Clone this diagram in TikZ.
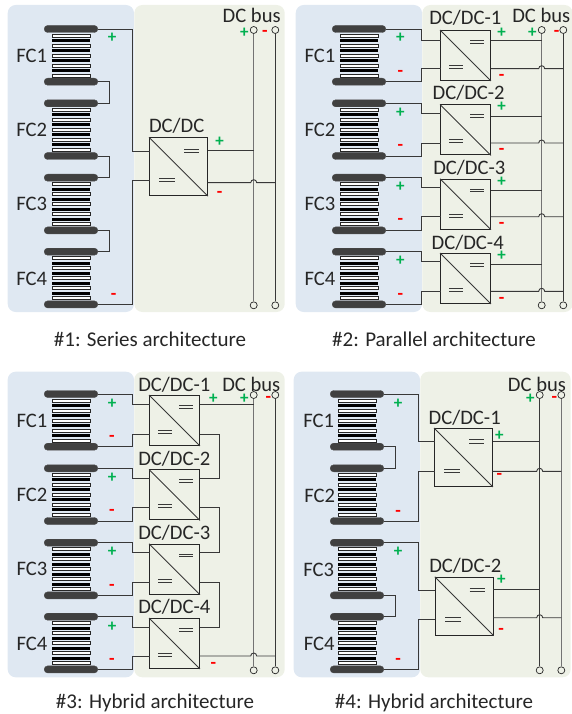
\documentclass[tikz,border=0pt]{standalone}
\usepackage{fontspec}
\setmainfont{Carlito}
\usepackage{xcolor}
\usepackage{tikz}

\definecolor{fcblue}{HTML}{DFE8F2}
\definecolor{busgreen}{HTML}{EEF1E7}
\definecolor{plusgreen}{HTML}{00B050}
\definecolor{inkdark}{HTML}{262626}

% one minus wire, hopping over the plus rail on its way to the minus rail
\newcommand{\hopwire}[1]{
  \coordinate (hop) at (bpt |- #1);
  \draw[wire] (#1) -- ([xshift=-3pt]hop) arc[start angle=180, end angle=0, radius=3pt] -- (bmt |- #1);
}
% blue and green regions of one panel
\newcommand{\regions}[2]{
  \fill[fcblue, rounded corners=8pt] (7.7,#1) rectangle (134,#2);
  \fill[busgreen, rounded corners=8pt] (134.3,#1) rectangle (284.7,#2);
}
% the four stacks with their names
\newcommand{\fcstacks}{
  \foreach \i/\y in {1/29,2/103.3,3/177.7,4/251.7} {
    \pic (fc\i) at (71,\y) {fcstack};
  }
}
% the two rails with their end terminals
\newcommand{\busrails}[2]{
  \node[term] (bpt) at (253.7,30) {};
  \node[term] (bmt) at (275.3,30) {};
  \node[term] (bpb) at (253.7,305.3) {};
  \node[term] (bmb) at (275.3,305.3) {};
  \draw[#1] (bpt) -- (bpb);
  \draw[#2] (bmt) -- (bmb);
}

\begin{document}
\begin{tikzpicture}[
  x=1pt, y=-1pt,
  wire/.style={line width=0.9pt, draw=black!78},
  rail/.style={line width=1.3pt, draw=black!55},
  term/.style={circle, draw=inkdark, line width=0.7pt, minimum size=7pt, inner sep=0pt},
  plate/.style={draw=black!70, fill=black!75, rounded corners=3.4pt, minimum width=53.6pt, minimum height=7pt, inner sep=0pt},
  cvbox/.style={draw=inkdark, line width=0.9pt, inner sep=0pt},
  lab/.style={font=\fontsize{20.6}{20}\selectfont, text=inkdark, inner sep=0pt},
  caption/.style={font=\fontsize{21}{20}\selectfont, text=inkdark, inner sep=0pt},
  plus/.style={font=\fontsize{17}{17}\bfseries\selectfont, text=plusgreen, inner sep=0pt},
  minus/.style={font=\fontsize{18}{18}\bfseries\selectfont, text=red, inner sep=0pt},
  fcstack/.pic={
    \node[plate] (top) at (0,0) {};
    \node[plate] (bot) at (0,52.7) {};
    \foreach \s in {5,15,25,35,45} {
      \filldraw[fill=white, draw=black!85, line width=0.6pt] (-19,\s) rectangle (19,\s+3);
    }
    \foreach \s in {10,20,30,40} {
      \fill[black] (-19,\s) rectangle (19,\s+3);
    }
  },
  dcdc/.pic={
    \node[cvbox, minimum size=#1pt] (box) at (0,0) {};
    \draw[wire] (box.north west) -- (box.south east);
    \begin{scope}[x=#1pt, y=-#1pt, wire]
      \draw (0.095,-0.305) -- (0.36,-0.305);
      \draw (0.095,-0.247) -- (0.36,-0.247);
      \draw (-0.328,0.2) -- (-0.06,0.2);
      \draw (-0.328,0.26) -- (-0.06,0.26);
    \end{scope}
  },
]
\useasboundingbox (0,0) rectangle (572,714);

% Panel 1: series
\begin{scope}[name prefix=a-]
\regions{5}{312}
\fcstacks
\busrails{rail}{wire}
\node[lab] (fc1lab) at (31.7,55.7) {FC1};
\node[lab] (fc2lab) at (31.7,130) {FC2};
\node[lab] (fc3lab) at (31.7,204) {FC3};
\node[lab] (fc4lab) at (31.7,278.7) {FC4};
\node[lab] (buslab) at (251.7,15.7) {DC bus};
\pic (cv) at (178.5,166.7) {dcdc=58};
\node[lab] (cvlab) at (176.7,126) {DC/DC};
\coordinate (ip) at (149.5,151);
\coordinate (im) at (149.5,180.3);
\coordinate (op) at (207.5,150.3);
\coordinate (om) at (207.5,182.7);
\draw[wire] (fc1top.east) -| (132.7,151) -- (ip);
\draw[wire] (fc4bot.east) -| (132.7,180.3) -- (im);
\draw[wire] (op) -- (bpt |- op);
\hopwire{om}
\foreach \u/\v in {1/2,2/3,3/4} {
  \draw[wire] (fc\u bot.east) -- ++(11.3,0) |- (fc\v top.east);
}
\node[plus] (p1) at (112,38) {+};
\node[minus] (m1) at (113.7,296.3) {-};
\node[plus] (p2) at (219.7,141.7) {+};
\node[minus] (m2) at (219.7,194.3) {-};
\node[plus] (p3) at (244.3,32.7) {+};
\node[minus] (m3) at (265,33.3) {-};
\node[caption] (cap) at (150,339) {\#1: Series architecture};
\end{scope}

% Panel 2: parallel
\begin{scope}[shift={(288,0)}, name prefix=b-]
\regions{5}{312}
\fcstacks
\busrails{rail}{wire}
\node[lab] (buslab) at (253.3,15) {DC bus};
\foreach \i/\cy/\ty/\lx/\ly/\ip/\im/\op/\om/\py/\my/\qy/\ny/\fy in {
  1/55.5/29/177.3/17.3/40/68.3/40.3/68.7/37.7/73.3/32.7/77.7/55.7,
  2/129.9/103.3/180.7/92.7/113.7/143/116/143/113/147.3/106.7/151.7/130,
  3/204.2/177.7/181.3/167.3/187.3/216.7/190/216.7/187/221.3/181.7/225.7/204,
  4/278.5/251.7/179.7/242.3/261.7/291.3/264.3/291.3/260.7/296.3/255.7/300.3/278.7} {
  \pic (cv\i) at (177.5,\cy) {dcdc=50};
  \node[lab] (cv\i lab) at (\lx,\ly) {DC/DC-\i};
  \node[lab] (fc\i lab) at (32,\fy) {FC\i};
  \coordinate (ip\i) at (152.5,\ip);
  \coordinate (im\i) at (152.5,\im);
  \coordinate (op\i) at (202.5,\op);
  \coordinate (om\i) at (202.5,\om);
  \draw[wire] (fc\i top.east) -| (133,\ip) -- (ip\i);
  \draw[wire] (fc\i bot.east) -| (133,\im) -- (im\i);
  \draw[wire] (op\i) -- (bpt |- op\i);
  \hopwire{om\i}
  \node[plus] (p\i) at (112.3,\py) {+};
  \node[minus] (m\i) at (112.3,\my) {-};
  \node[plus] (q\i) at (213.7,\qy) {+};
  \node[minus] (n\i) at (213.7,\ny) {-};
}
\node[plus] (pbus) at (244.3,32.7) {+};
\node[minus] (mbus) at (268.7,33.3) {-};
\node[caption] (cap) at (146,339) {\#2: Parallel architecture};
\end{scope}

% Panel 3: hybrid, outputs in series
\begin{scope}[shift={(0,365)}, name prefix=c-]
\regions{6.7}{312.3}
\fcstacks
\busrails{rail}{wire}
\node[lab] (buslab) at (251.3,19.3) {DC bus};
\foreach \i/\cy/\lx/\ly/\ip/\im/\py/\my/\fy in {
  1/55.5/174.3/19.3/39.7/69/38.7/73.3/56.3,
  2/129.9/174.3/93.3/113.3/142.7/112.7/147.3/129.7,
  3/204.2/174.3/167.3/187.7/217/187/222.3/204.3,
  4/278.5/174.3/242/262.3/291/261.7/296.3/279} {
  \pic (cv\i) at (174.5,\cy) {dcdc=50};
  \node[lab] (cv\i lab) at (\lx,\ly) {DC/DC-\i};
  \node[lab] (fc\i lab) at (32,\fy) {FC\i};
  \coordinate (ip\i) at (149.5,\ip);
  \coordinate (im\i) at (149.5,\im);
  \coordinate (op\i) at (199.5,\ip);
  \coordinate (om\i) at (199.5,\im);
  \draw[wire] (fc\i top.east) -| (132.7,\ip) -- (ip\i);
  \draw[wire] (fc\i bot.east) -| (132.7,\im) -- (im\i);
  \node[plus] (p\i) at (112,\py) {+};
  \node[minus] (m\i) at (112,\my) {-};
}
\draw[wire] (op1) -- (bpt |- op1);
\foreach \u/\v in {1/2,2/3,3/4} {
  \draw[wire] (om\u) -- ++(20.2,0) |- (op\v);
}
\hopwire{om4}
\node[plus] (q1) at (213.3,34) {+};
\node[minus] (n4) at (213.3,300.3) {-};
\node[plus] (pbus) at (244.3,34) {+};
\node[minus] (mbus) at (268.3,34.7) {-};
\node[caption] (cap) at (155,338) {\#3: Hybrid architecture};
\end{scope}

% Panel 4: hybrid, two converters
\begin{scope}[shift={(286,365)}, name prefix=d-]
\regions{6.7}{312.3}
\fcstacks
\busrails{wire}{rail}
\node[lab] (buslab) at (251,19.3) {DC bus};
\node[lab] (fc1lab) at (32.7,56.3) {FC1};
\node[lab] (fc2lab) at (33.7,130.7) {FC2};
\node[lab] (fc3lab) at (32.7,205) {FC3};
\node[lab] (fc4lab) at (33.3,279.3) {FC4};
\pic (cv1) at (177.5,92.5) {dcdc=58};
\pic (cv2) at (178.2,241.2) {dcdc=58};
\node[lab] (cv1lab) at (178.7,52.3) {DC/DC-1};
\node[lab] (cv2lab) at (179.3,200.3) {DC/DC-2};
\coordinate (ip1) at (148.5,76.7);
\coordinate (im1) at (148.5,106.3);
\coordinate (op1) at (206.5,76.7);
\coordinate (om1) at (206.5,106.3);
\coordinate (ip2) at (149.2,225.3);
\coordinate (im2) at (149.2,254.3);
\coordinate (op2) at (207.2,224);
\coordinate (om2) at (207.2,252.7);
\draw[wire] (fc1top.east) -| (132.3,76.7) -- (ip1);
\draw[wire] (fc2bot.east) -| (132.3,106.3) -- (im1);
\draw[wire] (fc3top.east) -| (132.3,225.3) -- (ip2);
\draw[wire] (fc4bot.east) -| (132.3,254.3) -- (im2);
\draw[wire] (fc1bot.east) -- ++(11.3,0) |- (fc2top.east);
\draw[wire] (fc3bot.east) -- ++(11.3,0) |- (fc4top.east);
\draw[wire] (op1) -- (bpt |- op1);
\draw[wire] (op2) -- (bpt |- op2);
\hopwire{om1}
\hopwire{om2}
\node[plus] (p1) at (112,38.7) {+};
\node[minus] (m1) at (112,148.7) {-};
\node[plus] (p2) at (112,186.7) {+};
\node[minus] (m2) at (112,296.7) {-};
\node[plus] (q1) at (213.3,71) {+};
\node[minus] (n1) at (213.3,111.7) {-};
\node[plus] (q2) at (215.3,215) {+};
\node[minus] (n2) at (215,266.7) {-};
\node[plus] (pbus) at (244.3,34) {+};
\node[minus] (mbus) at (268.3,34.7) {-};
\node[caption] (cap) at (148,338) {\#4: Hybrid architecture};
\end{scope}
\end{tikzpicture}
\end{document}
